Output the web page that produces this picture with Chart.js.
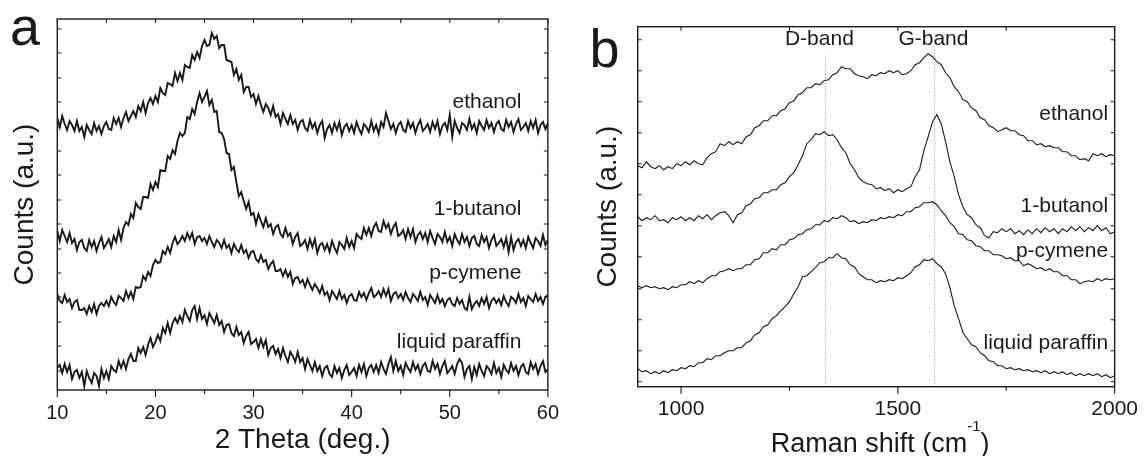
<!DOCTYPE html>
<html><head><meta charset="utf-8">
<script src="https://cdn.jsdelivr.net/npm/chart.js@4.4.1/dist/chart.umd.min.js"></script>
<style>
html,body{margin:0;padding:0;background:#fff;}
#wrap{position:relative;width:1148px;height:456px;overflow:hidden;background:#fff;}
canvas{position:absolute;top:0;}
#ca{left:0;} #cb{left:574px;}
</style></head><body>
<div id="wrap"><canvas id="ca" width="570" height="456"></canvas><canvas id="cb" width="574" height="456"></canvas></div>
<script>
// ---------------- DATA ----------------
const seriesNames = ['ethanol','1-butanol','p-cymene','liquid paraffin'];

// (a) XRD, 2 Theta grid 10..60 step 0.25 deg; counts in arbitrary units (stacked offsets as drawn)
const xrdStart = 10, xrdStep = 0.25;
const xrdEthanol = [272,263,274,266,260,269,265,259,269,259,263,253,265,260,256,267,259,264,256,264,
268,261,260,272,266,272,263,272,278,269,274,279,273,284,279,288,277,287,292,286,
294,288,302,297,295,307,306,304,317,309,317,310,325,323,322,335,330,338,332,344,
350,344,345,357,351,354,342,345,345,330,329,328,315,321,310,315,298,303,303,293,
296,286,294,285,278,286,282,275,284,273,276,266,277,271,266,275,266,270,260,268,
270,262,259,270,262,267,257,265,269,252,261,265,257,267,260,268,255,263,266,259,
265,257,268,261,256,266,263,258,269,259,265,256,268,263,277,269,261,266,257,265,
268,260,258,269,262,267,257,265,270,259,262,266,258,268,261,269,256,264,267,260,
275,253,269,262,257,267,265,260,271,261,266,257,269,264,260,270,262,267,258,266,
269,261,259,270,263,268,258,266,271,260,263,267,259,269,262,270,257,265,268,261,267];
const xrdButanol = [159,149,160,154,148,157,147,151,140,148,150,142,139,150,143,149,139,147,153,142,
146,151,143,154,148,160,150,162,168,165,176,172,187,183,181,193,193,192,206,200,
208,203,220,219,219,234,231,240,236,249,257,254,257,273,271,281,276,288,297,288,
293,299,285,290,278,279,258,257,251,237,236,220,223,208,194,198,189,181,188,175,
177,166,176,169,163,172,163,166,156,163,165,156,153,162,154,157,146,153,157,144,
146,150,141,151,143,151,137,145,147,140,146,138,149,142,137,148,145,141,152,143,
149,142,156,153,151,162,155,162,154,163,167,159,158,169,162,166,156,163,167,154,
156,160,151,161,153,161,148,155,158,151,157,148,159,152,146,156,153,148,158,148,
153,144,156,150,146,156,148,153,144,152,154,146,144,155,148,153,142,150,155,144,
147,151,143,152,138,153,140,148,151,144,150,142,153,147,142,152,149,144,155,145,150];
const xrdCymene = [96,89,87,95,88,91,82,88,90,80,80,82,76,84,78,86,76,84,87,84,
89,84,93,88,85,94,92,89,99,92,98,91,103,102,103,114,110,118,114,125,
130,127,128,139,136,143,137,147,153,146,149,154,149,157,151,157,146,153,154,149,
152,146,154,148,143,150,147,142,150,142,145,137,146,141,138,145,137,140,132,138,
139,131,128,135,128,130,121,126,129,119,119,121,114,120,113,118,106,112,113,107,
110,103,111,105,100,106,102,97,104,95,98,90,99,95,91,99,91,95,87,94,
96,90,89,98,93,97,90,97,102,93,95,99,93,101,94,101,89,96,98,92,
96,90,98,92,88,96,93,89,98,90,93,85,95,91,87,95,87,91,84,90,
92,86,84,92,86,90,82,80,93,81,86,89,84,92,86,93,82,89,92,87,
91,85,94,88,84,93,91,87,96,88,92,84,94,91,88,96,89,93,86,93,95];
const xrdParaffin = [22,25,17,26,18,25,11,18,20,12,18,4,19,12,7,17,14,4,21,12,
19,11,24,20,18,29,22,29,21,31,36,29,29,42,37,43,35,45,52,43,
48,55,49,62,57,67,57,67,72,67,74,68,80,74,69,80,84,71,82,71,
75,66,77,72,67,75,65,69,58,65,66,57,54,63,55,58,47,54,58,46,
48,51,42,51,43,50,35,42,44,36,41,32,42,34,28,38,34,28,38,28,
32,21,31,25,19,28,19,24,14,22,24,16,13,24,17,22,12,20,25,15,
18,22,14,25,18,26,14,22,25,18,25,17,28,21,16,26,33,19,29,19,
24,15,27,22,18,28,20,25,16,24,27,19,18,29,21,26,16,24,29,17,
20,24,16,26,31,27,13,21,24,11,23,15,26,19,14,24,21,16,27,17,
22,13,25,20,17,27,19,24,15,23,26,18,16,28,21,26,16,24,29,18,21];
const xrdTicks = [10,20,30,40,50,60];
const xrdMinorTicks = [15,25,35,45,55];
const xrdYTicks = [19,44,68,93,117,141,166,190,215,239,263,288,312,337,361];

// (b) Raman, shift grid 900..2000 step 10 cm-1
const ramanStart = 900, ramanStep = 10;
const ramanEthanol = [221,219,225,220,218,221,217,220,218,223,
221,225,222,226,223,222,229,233,235,243,
241,245,242,245,243,250,252,259,261,266,
266,271,271,276,278,284,286,292,294,299,
299,303,302,306,307,312,314,320,318,318,
313,311,310,308,312,311,314,313,316,314,
316,312,313,316,322,324,329,333,330,325,
322,314,309,300,295,287,285,279,276,269,
267,261,259,255,257,259,256,256,252,251,
246,246,242,243,240,241,239,239,235,235,
231,231,227,228,226,233,231,233,230,232,231];
const ramanButanol = [170,166,169,167,171,166,167,164,169,167,
170,166,169,166,171,168,172,167,171,174,
175,171,164,172,174,181,183,188,189,194,
194,197,197,202,204,210,214,222,231,243,
247,253,252,255,251,252,247,239,234,223,
217,209,205,203,202,198,199,196,198,194,
197,195,198,200,210,217,236,250,265,272,
263,245,225,210,192,180,172,169,162,159,
151,149,155,154,158,155,158,153,156,152,
157,153,158,154,159,155,158,153,158,155,
160,156,160,155,159,156,161,156,159,153,155];
const ramanCymene = [101,99,101,99,100,98,99,97,100,99,
102,102,105,103,106,104,108,111,111,115,
116,118,116,118,118,122,122,127,128,134,
134,138,137,142,142,147,148,152,153,157,
158,162,162,166,165,169,168,171,169,165,
166,163,165,164,167,166,169,168,170,169,
172,171,175,175,179,180,184,184,185,182,
176,171,164,160,153,152,147,146,141,140,
136,136,132,132,131,128,129,126,126,121,
123,121,118,119,116,118,115,115,111,111,
107,107,103,105,106,105,108,106,108,107,108];
const ramanParaffin = [18,15,16,13,15,13,16,14,17,16,
19,18,21,20,24,24,28,27,31,31,
34,36,36,39,39,44,46,52,54,60,
62,68,71,76,80,85,93,100,110,111,
115,119,124,125,129,129,133,129,128,122,
120,113,110,107,107,104,106,105,107,106,
109,108,111,114,120,122,127,126,128,123,
120,113,99,81,68,54,48,42,40,34,
31,26,25,21,21,18,19,17,18,16,
17,15,16,14,16,13,15,13,15,12,
14,11,13,11,13,11,13,10,12,9,11];
const ramanTicks = [1000,1500,2000];
const ramanMinorTicks = [1250,1750];
const ramanYTicks = [5,36,67,98,130,161,192,223,254,285,316,347];
const bandNames = ['D-band','G-band'];
const bandPositions = [1333,1585];

// ---------------- RENDERING ----------------
const FONT = '"Liberation Sans", Arial, Helvetica, sans-serif';
const INK = '#1a1a1a';
Chart.defaults.font.family = FONT;
Chart.defaults.color = INK;

function grid(start, step, n){ const a=[]; for(let i=0;i<n;i++) a.push(+(start+i*step).toFixed(4)); return a; }
function pts(xs, ys){ return ys.map((y,i)=>({x:xs[i], y:y})); }

const inkPlugin = {
  id:'ink',
  afterDatasetsDraw(chart, _args, o){
    const ctx = chart.ctx, a = chart.chartArea, xs = chart.scales.x, ys = chart.scales.y;
    ctx.save();
    ctx.strokeStyle = INK;
    ctx.lineWidth = 1.4;
    ctx.strokeRect(a.left, a.top, a.right-a.left, a.bottom-a.top);
    ctx.lineWidth = 1.1;
    ctx.beginPath();
    o.xMajor.forEach(v=>{ const p = xs.getPixelForValue(v);
      ctx.moveTo(p, a.bottom); ctx.lineTo(p, a.bottom + o.majorLen);
      ctx.moveTo(p, a.top); ctx.lineTo(p, a.top + o.inLen); });
    o.xMinor.forEach(v=>{ const p = xs.getPixelForValue(v);
      ctx.moveTo(p, a.bottom); ctx.lineTo(p, a.bottom + o.minorLen);
      ctx.moveTo(p, a.top); ctx.lineTo(p, a.top + o.inLen); });
    o.yTicks.forEach(v=>{ const p = ys.getPixelForValue(v);
      ctx.moveTo(a.left, p); ctx.lineTo(a.left + o.inLen, p);
      ctx.moveTo(a.right, p); ctx.lineTo(a.right - o.inLen, p); });
    ctx.stroke();
    ctx.fillStyle = INK;
    ctx.textBaseline = 'alphabetic';
    ctx.font = o.labelSize + 'px ' + FONT;
    ctx.textAlign = 'right';
    o.labels.forEach(L => ctx.fillText(L.text, xs.getPixelForValue(L.x), ys.getPixelForValue(L.y)));
    ctx.textAlign = 'center';
    (o.centerLabels||[]).forEach(L => ctx.fillText(L.text, xs.getPixelForValue(L.x), ys.getPixelForValue(L.y)));
    ctx.textAlign = 'left';
    ctx.font = o.letter.size + 'px ' + FONT;
    ctx.fillText(o.letter.text, o.letter.x, o.letter.y);
    if (o.xTitle){
      const t = o.xTitle;
      ctx.font = t.size + 'px ' + FONT;
      const w1 = ctx.measureText(t.main).width, w3 = ctx.measureText(t.end).width;
      ctx.font = t.supSize + 'px ' + FONT;
      const w2 = ctx.measureText(t.sup).width;
      let x0 = (a.left + a.right)/2 + t.shift - (w1+w2+w3)/2;
      ctx.font = t.size + 'px ' + FONT;
      ctx.fillText(t.main, x0, t.y);
      ctx.font = t.supSize + 'px ' + FONT;
      ctx.fillText(t.sup, x0 + w1, t.y - t.supRaise);
      ctx.font = t.size + 'px ' + FONT;
      ctx.fillText(t.end, x0 + w1 + w2, t.y);
    }
    ctx.restore();
  }
};

function lineSet(data, width){
  return {data:data, borderColor:INK, borderWidth:width, pointRadius:0, tension:0, fill:false, borderJoinStyle:'miter'};
}

// Panel a
const thetas = grid(xrdStart, xrdStep, xrdEthanol.length);
const xrdSeries = [xrdEthanol, xrdButanol, xrdCymene, xrdParaffin];
new Chart(document.getElementById('ca'), {
  type:'line',
  data:{datasets: xrdSeries.map(s => lineSet(pts(thetas, s), 1.9))},
  options:{
    responsive:false, animation:false, devicePixelRatio:1,
    layout:{padding:{left:0, right:19.5, top:19, bottom:0}},
    plugins:{legend:{display:false}, tooltip:{enabled:false},
      ink:{xMajor:xrdTicks, xMinor:xrdMinorTicks, yTicks:xrdYTicks, majorLen:7, minorLen:4, inLen:4,
        labelSize:21,
        labels: seriesNames.map((t,i)=>({text:t, x:57.3, y:[282,175,111,42][i]})),
        letter:{text:'a', x:10, y:45, size:54}}},
    scales:{
      x:{type:'linear', min:10, max:60, position:'bottom',
        grid:{display:false, drawTicks:false}, border:{display:false},
        afterBuildTicks: s => { s.ticks = xrdTicks.map(v=>({value:v})); },
        ticks:{padding:11, color:INK, font:{size:20}, maxRotation:0, autoSkip:false, callback:v=>String(v)},
        title:{display:true, text:'2 Theta (deg.)', color:INK, font:{size:28, lineHeight:1}, padding:{top:0, bottom:1.7}},
        afterFit: s => { s.height = 66; }},
      y:{type:'linear', min:0, max:371, position:'left',
        grid:{display:false, drawTicks:false}, border:{display:false},
        ticks:{display:false},
        title:{display:true, text:'Counts (a.u.)', color:INK, font:{size:28, lineHeight:1}, padding:{top:10.8, bottom:0}},
        afterFit: s => { s.width = 57.3; }}
    }
  },
  plugins:[inkPlugin]
});

// Panel b
const shifts = grid(ramanStart, ramanStep, ramanEthanol.length);
const ramanSeries = [ramanEthanol, ramanButanol, ramanCymene, ramanParaffin];
const bandTops = [332, 337];
const ramanSets = ramanSeries.map(s => lineSet(pts(shifts, s), 1.1));
bandPositions.forEach((b,i)=>{
  ramanSets.push({data:[{x:b,y:0},{x:b,y:bandTops[i]}], borderColor:'#888', borderWidth:1, borderDash:[1,2], pointRadius:0, fill:false});
});
new Chart(document.getElementById('cb'), {
  type:'line',
  data:{datasets: ramanSets},
  options:{
    responsive:false, animation:false, devicePixelRatio:1,
    layout:{padding:{left:0, right:26.3, top:26.7, bottom:0}},
    plugins:{legend:{display:false}, tooltip:{enabled:false},
      ink:{xMajor:ramanTicks, xMinor:ramanMinorTicks, yTicks:ramanYTicks, majorLen:7, minorLen:4, inLen:4,
        labelSize:21,
        labels: seriesNames.map((t,i)=>({text:t, x:1985, y:[267,175,130,38][i]})),
        centerLabels: bandNames.map((t,i)=>({text:t, x:[1319,1582][i], y:342})),
        letter:{text:'b', x:15.5, y:66.7, size:54},
        xTitle:{main:'Raman shift (cm', sup:'-1', end:')', size:27, supSize:15, supRaise:21, y:451.5, shift:4}}},
    scales:{
      x:{type:'linear', min:900, max:2000, position:'bottom',
        grid:{display:false, drawTicks:false}, border:{display:false},
        afterBuildTicks: s => { s.ticks = ramanTicks.map(v=>({value:v})); },
        ticks:{padding:10, color:INK, font:{size:21}, maxRotation:0, autoSkip:false, callback:v=>String(v)},
        title:{display:false},
        afterFit: s => { s.height = 69.3; }},
      y:{type:'linear', min:0, max:360, position:'left',
        grid:{display:false, drawTicks:false}, border:{display:false},
        ticks:{display:false},
        title:{display:true, text:'Counts (a.u.)', color:INK, font:{size:28, lineHeight:1}, padding:{top:20.3, bottom:0}},
        afterFit: s => { s.width = 63.7; }}
    }
  },
  plugins:[inkPlugin]
});
</script>
</body></html>
